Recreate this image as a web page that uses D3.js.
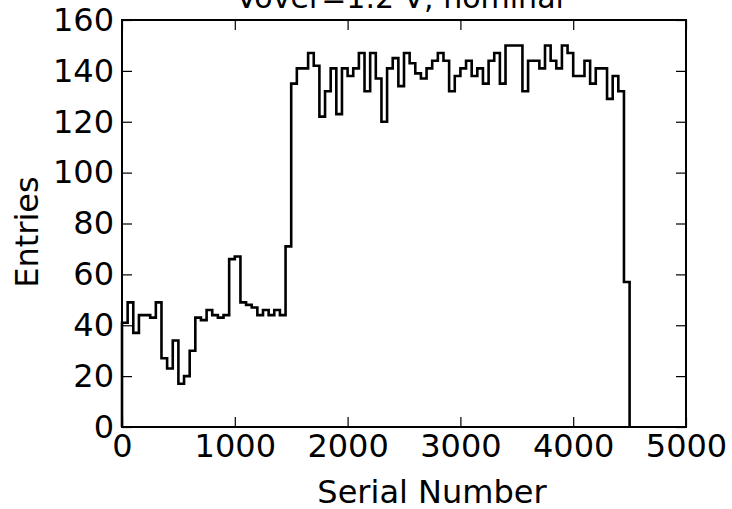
<!DOCTYPE html>
<html>
<head>
<meta charset="utf-8">
<script src="https://cdn.jsdelivr.net/npm/d3@7"></script>
<style>
  html, body { margin: 0; padding: 0; background: #fff; }
  svg { display: block; }
  text { font-family: "DejaVu Sans", sans-serif; fill: #000; }
</style>
</head>
<body>
<svg id="chart" width="732" height="509"></svg>
<script>
// ---- data ----
const binWidth = 50; // serial numbers per bin, first bin starts at 0
const counts = [
  41, 49, 37, 44, 44, 43, 49, 27, 23, 34,
  17, 20, 30, 43, 42, 46, 44, 43, 44, 66,
  67, 49, 48, 47, 44, 46, 44, 46, 44, 71,
  135, 141, 141, 147, 142, 122, 132, 141, 123, 141,
  138, 141, 147, 132, 147, 137, 120, 141, 145, 134,
  147, 143, 139, 137, 141, 144, 147, 144, 132, 138,
  141, 144, 138, 141, 135, 144, 147, 135, 150, 150,
  150, 132, 144, 144, 141, 150, 144, 141, 150, 147,
  138, 138, 144, 135, 141, 141, 129, 138, 132, 57
];
const xTicks = [0, 1000, 2000, 3000, 4000, 5000];
const yTicks = [0, 20, 40, 60, 80, 100, 120, 140, 160];
const xDomain = [0, 5000];
const yDomain = [0, 160];
const titleText = "Vover=1.2 V, nominal";
const xLabel = "Serial Number";
const yLabel = "Entries";

// ---- layout ----
const W = 732, H = 509;
const margin = { left: 122, top: 20, right: 46, bottom: 82 };
const iw = W - margin.left - margin.right;
const ih = H - margin.top - margin.bottom;
const FS = 32;

const svg = d3.select("#chart");
const g = svg.append("g").attr("transform", `translate(${margin.left},${margin.top})`);

const x = d3.scaleLinear().domain(xDomain).range([0, iw]);
const y = d3.scaleLinear().domain(yDomain).range([ih, 0]);

// histogram outline (step)
const pts = [[0, 0]];
counts.forEach((c, i) => pts.push([i * binWidth, c]));
pts.push([counts.length * binWidth, 0]);
const line = d3.line().x(d => x(d[0])).y(d => y(d[1])).curve(d3.curveStepAfter);
g.append("path")
  .attr("d", line(pts))
  .attr("fill", "none")
  .attr("stroke", "#000")
  .attr("stroke-width", 2.6)
  .attr("stroke-linejoin", "miter");

// axes (ticks inward)
function styleAxis(sel, showLabels) {
  sel.select(".domain").remove();
  sel.selectAll(".tick line").attr("stroke", "#000").attr("stroke-width", 1.2);
  sel.selectAll(".tick text").attr("font-size", FS).attr("font-family", "DejaVu Sans, sans-serif");
  if (!showLabels) sel.selectAll(".tick text").remove();
}
const gx = g.append("g").attr("transform", `translate(0,${ih})`)
  .call(d3.axisBottom(x).tickValues(xTicks).tickSizeInner(-10).tickSizeOuter(0).tickPadding(7).tickFormat(d3.format("d")));
styleAxis(gx, true);
const gy = g.append("g")
  .call(d3.axisLeft(y).tickValues(yTicks).tickSizeInner(-10).tickSizeOuter(0).tickPadding(8).tickFormat(d3.format("d")));
styleAxis(gy, true);
const gt = g.append("g")
  .call(d3.axisTop(x).tickValues(xTicks).tickSizeInner(-10).tickSizeOuter(0));
styleAxis(gt, false);
const gr = g.append("g").attr("transform", `translate(${iw},0)`)
  .call(d3.axisRight(y).tickValues(yTicks).tickSizeInner(-10).tickSizeOuter(0));
styleAxis(gr, false);

// frame
g.append("rect")
  .attr("x", 0).attr("y", 0).attr("width", iw).attr("height", ih)
  .attr("fill", "none").attr("stroke", "#000").attr("stroke-width", 2);

// labels
svg.append("text")
  .attr("x", 400).attr("y", 8)
  .attr("text-anchor", "middle").attr("font-size", 30)
  .text(titleText);
svg.append("text")
  .attr("x", 432).attr("y", 503)
  .attr("text-anchor", "middle").attr("font-size", FS)
  .text(xLabel);
svg.append("text")
  .attr("transform", `translate(38,232) rotate(-90)`)
  .attr("text-anchor", "middle").attr("font-size", FS)
  .text(yLabel);
</script>
</body>
</html>
